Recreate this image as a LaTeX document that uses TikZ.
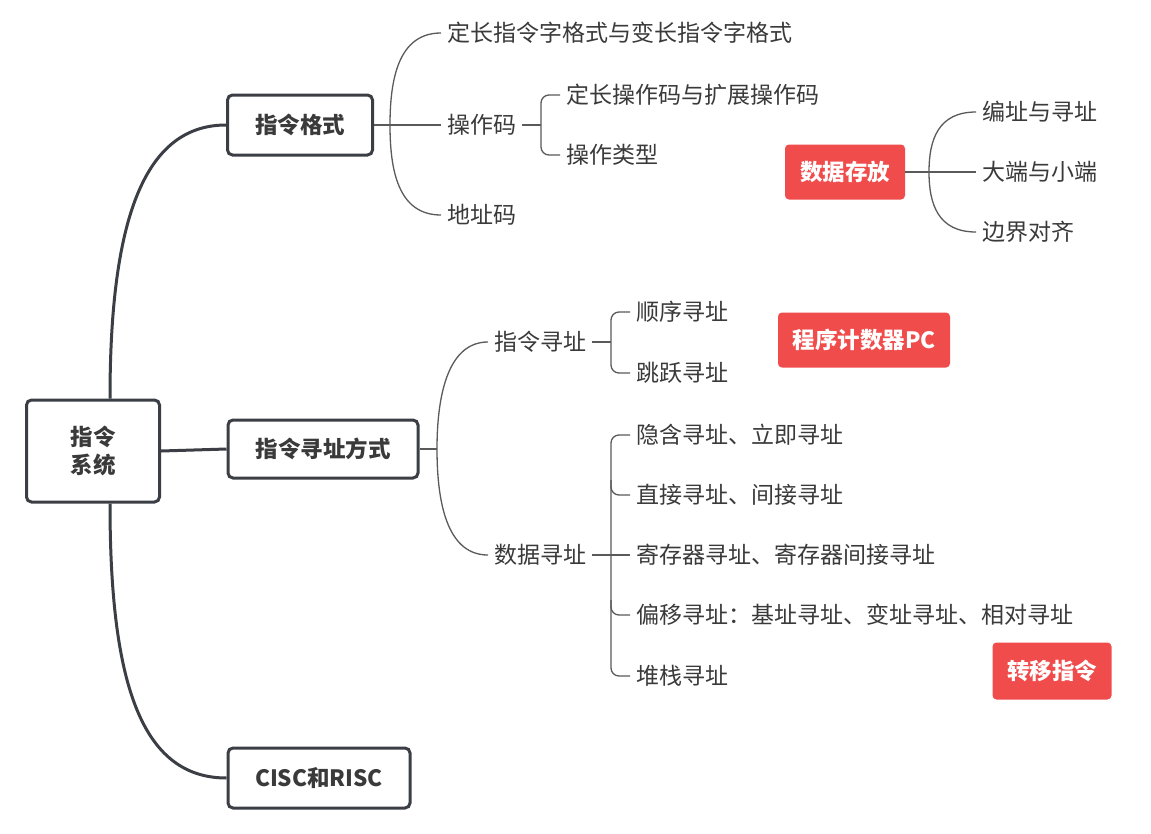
\documentclass[tikz,border=0pt]{standalone}
\usepackage{fontspec}
\setmainfont{Noto Sans CJK SC}
\definecolor{txt}{HTML}{3A3A3A}
\definecolor{dk}{HTML}{3B3F45}
\definecolor{thin}{HTML}{5A5A5A}
\definecolor{redbox}{HTML}{F04C4C}
\begin{document}
\begin{tikzpicture}[x=1pt,y=-1pt,
  every node/.style={font=\fontsize{23}{28}\selectfont, text=txt},
  mainbox/.style={draw=dk, line width=3pt, fill=white, rounded corners=5pt, font=\fontsize{22.5}{28}\selectfont\bfseries, inner sep=0pt},
  redtag/.style={fill=redbox, rounded corners=4pt, text=white, font=\fontsize{22.5}{28}\selectfont\bfseries, inner sep=0pt},
  leaf/.style={anchor=west, inner sep=0pt, outer xsep=6pt},
  thick link/.style={draw=dk, line width=3pt},
  thin link/.style={draw=thin, line width=1.3pt}]
\useasboundingbox (0,0) rectangle (1151,833);
\fill[white] (0,0) rectangle (1151,833);

% main nodes
\node[mainbox, minimum width=133pt, minimum height=102pt, align=center] (root) at (93,451) {指令\\系统};
\node[mainbox, minimum width=145pt, minimum height=60pt] (fmt) at (300,125) {指令格式};
\node[mainbox, minimum width=190pt, minimum height=58pt] (addr) at (323,449) {指令寻址方式};
\node[mainbox, minimum width=182pt, minimum height=60pt] (cisc) at (319,778) {CISC和RISC};

% root connectors
\draw[thick link] (root.north -| 110,0) .. controls (110,230) and (140,125) .. (fmt.west);
\draw[thick link] (root.south -| 110,0) .. controls (110,680) and (140,778) .. (cisc.west);
\draw[thick link] (root.east) -- (addr.west);

% instruction format children
\node[leaf] (f1) at (441,33) {定长指令字格式与变长指令字格式};
\node[leaf] (f2) at (441,125) {操作码};
\node[leaf] (f3) at (441,215) {地址码};
\coordinate (fj) at (390,125);
\draw[thin link] (fmt.east) -- (f2.west);
\draw[thin link] (f1.west) .. controls (398,33) and (390,80) .. (fj) .. controls (390,170) and (398,215) .. (f3.west);

% opcode children
\node[leaf] (o1) at (560,95) {定长操作码与扩展操作码};
\node[leaf] (o2) at (560,155) {操作类型};
\draw[thin link] (f2.east) -- (541,125);
\draw[thin link, rounded corners=8pt] (o1.west) -- (541,95) -- (541,155) -- (o2.west);

% data storage
\node[redtag, minimum width=120pt, minimum height=55pt] (ds) at (845,172) {数据存放};
\node[leaf] (d1) at (976,112) {编址与寻址};
\node[leaf] (d2) at (976,172) {大端与小端};
\node[leaf] (d3) at (976,232) {边界对齐};
\coordinate (dj) at (929,172);
\draw[thin link] (ds.east) -- (d2.west);
\draw[thin link] (d1.west) .. controls (938,112) and (929,140) .. (dj) .. controls (929,204) and (938,232) .. (d3.west);

% addressing children
\node[leaf] (a1) at (488,342) {指令寻址};
\node[leaf] (a2) at (488,555) {数据寻址};
\coordinate (aj) at (437,449);
\draw[thin link] (addr.east) -- (aj);
\draw[thin link] (a1.west) .. controls (450,342) and (437,390) .. (aj) .. controls (437,510) and (450,555) .. (a2.west);

% instruction addressing
\node[leaf] (i1) at (630,312) {顺序寻址};
\node[leaf] (i2) at (630,373) {跳跃寻址};
\draw[thin link] (a1.east) -- (611,342);
\draw[thin link, rounded corners=8pt] (i1.west) -- (611,312) -- (611,373) -- (i2.west);
\node[redtag, minimum width=172pt, minimum height=55pt] (pc) at (864,340) {程序计数器PC};

% data addressing
\node[leaf] (e1) at (630,435) {隐含寻址、立即寻址};
\node[leaf] (e2) at (630,495) {直接寻址、间接寻址};
\node[leaf] (e3) at (630,555) {寄存器寻址、寄存器间接寻址};
\node[leaf] (e4) at (630,615) {偏移寻址：基址寻址、变址寻址、相对寻址};
\node[leaf] (e5) at (630,676) {堆栈寻址};
\draw[thin link] (a2.east) -- (e3.west);
\draw[thin link, rounded corners=8pt] (e1.west) -- (611,435) -- (611,676) -- (e5.west);
\draw[thin link, rounded corners=8pt] (611,480) |- (e2.west);
\draw[thin link, rounded corners=8pt] (611,600) |- (e4.west);
\node[redtag, minimum width=119pt, minimum height=57pt] (jmp) at (1052,671) {转移指令};
\end{tikzpicture}
\end{document}
